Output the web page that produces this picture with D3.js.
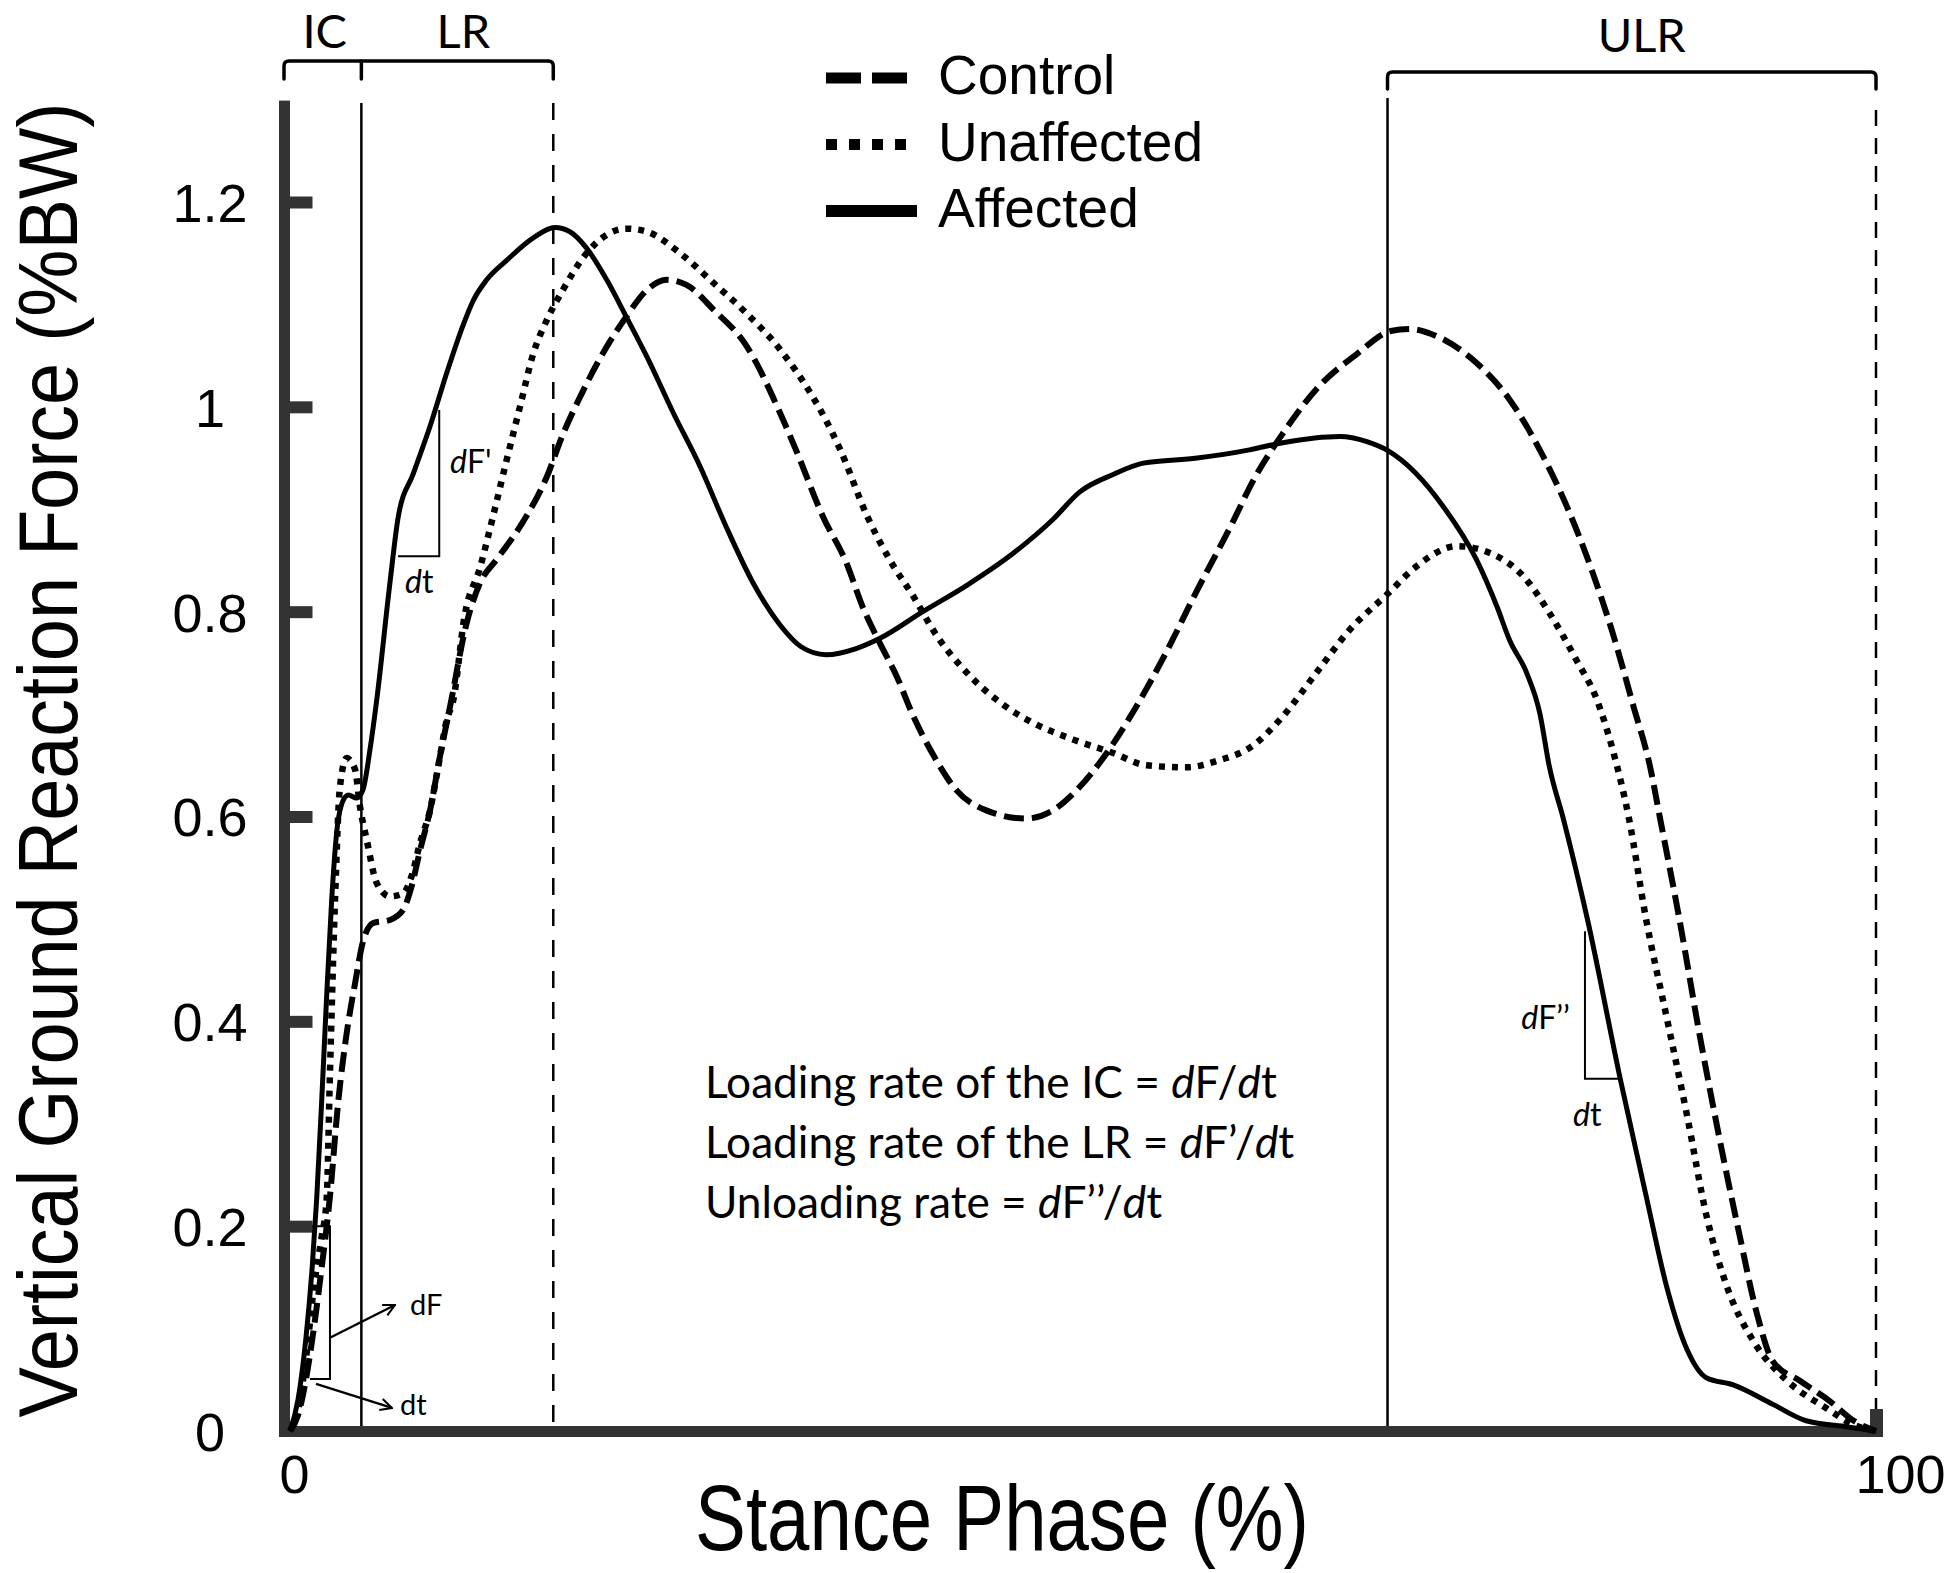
<!DOCTYPE html>
<html>
<head>
<meta charset="utf-8">
<script src="https://cdn.jsdelivr.net/npm/d3@7"></script>
<style>
  html, body { margin: 0; padding: 0; background: #fff; }
  svg { display: block; }
</style>
</head>
<body>
<svg id="chart" width="1950" height="1573"></svg>
<script>
// ---------------- DATA ----------------
const xTicks = [0, 100];
const xTickLabels = ["0", "100"];
const yTicks = [0, 0.2, 0.4, 0.6, 0.8, 1.0, 1.2];
const yTickLabels = ["0", "0.2", "0.4", "0.6", "0.8", "1", "1.2"];
const phaseBounds = [0, 4.5, 16.6, 69.2, 100];
const phaseNames = ["IC", "LR", "ULR"];
const legendLabels = ["Control", "Unaffected", "Affected"];

const control = [
  [0,0],[0.5,0.015],[1.0,0.05],[1.5,0.10],[2.0,0.16],[2.5,0.226],[3.05,0.323],[3.57,0.388],
  [4.1,0.437],[4.62,0.479],[5.25,0.496],[6.3,0.499],[7.14,0.509],[7.67,0.532],[8.2,0.567],
  [8.83,0.606],[9.46,0.659],[10.1,0.708],[11.14,0.789],[11.98,0.828],[13.03,0.851],[14.5,0.883],
  [16.2,0.932],[17.23,0.974],[18.3,1.010],[19.5,1.046],[21.2,1.088],[22.5,1.114],[23.75,1.124],
  [25.0,1.119],[26.7,1.095],[28.8,1.059],[30.9,0.994],[31.9,0.958],[33.6,0.893],[35.1,0.847],
  [36.1,0.805],[37.2,0.769],[38.25,0.737],[39.3,0.698],[40.6,0.659],[42.0,0.626],[43.9,0.606],
  [46.4,0.598],[48.1,0.606],[49.8,0.629],[51.5,0.662],[53.0,0.698],[55.1,0.756],[57.2,0.821],
  [59.3,0.883],[60.8,0.930],[62.6,0.974],[64.7,1.017],[67.3,1.052],[69.4,1.074],[70.6,1.076],
  [72.3,1.069],[74.8,1.043],[76.9,1.007],[78.8,0.958],[80.5,0.903],[82.0,0.844],[83.4,0.779],
  [84.7,0.708],[85.75,0.649],[86.4,0.597],[87.6,0.500],[88.9,0.385],[90.1,0.288],[91.4,0.191],
  [92.5,0.114],[93.5,0.068],[95.2,0.049],[97.1,0.029],[98.6,0.010],[100,0]
];
const unaffected = [
  [0,0],[0.5,0.02],[1.0,0.07],[1.5,0.14],[2.0,0.19],[2.31,0.226],[2.52,0.35],[2.84,0.519],
  [3.15,0.629],[3.57,0.657],[4.1,0.646],[4.41,0.610],[4.84,0.577],[5.47,0.535],[6.3,0.522],
  [7.14,0.525],[7.67,0.542],[8.2,0.574],[8.83,0.606],[9.35,0.649],[9.88,0.694],[10.3,0.714],
  [11.0,0.795],[12.0,0.844],[12.8,0.893],[13.66,0.948],[14.5,1.0],[15.34,1.052],[16.2,1.085],
  [17.2,1.114],[18.7,1.150],[19.97,1.168],[21.2,1.174],[22.5,1.171],[24.6,1.150],[26.7,1.121],
  [28.8,1.091],[30.9,1.056],[34.7,0.958],[36.4,0.893],[37.8,0.851],[39.3,0.815],[40.8,0.776],
  [42.7,0.740],[44.8,0.711],[46.9,0.691],[49.4,0.675],[51.9,0.662],[54.0,0.650],[56.5,0.648],
  [58.6,0.655],[60.6,0.668],[62.5,0.696],[64.7,0.740],[66.8,0.782],[69.25,0.818],[71.0,0.844],
  [73.6,0.864],[75.7,0.857],[77.8,0.834],[79.4,0.799],[81.1,0.753],[82.4,0.714],[83.4,0.665],
  [84.4,0.600],[85.5,0.500],[86.8,0.404],[88.1,0.307],[89.3,0.211],[90.6,0.141],[92.3,0.087],
  [94.4,0.049],[96.9,0.022],[98.6,0.006],[100,0]
];
const affected = [
  [0,0],[0.5,0.03],[1.0,0.09],[1.4,0.16],[1.68,0.226],[2.0,0.323],[2.3,0.421],[2.63,0.519],
  [2.94,0.584],[3.36,0.616],[3.68,0.621],[4.2,0.618],[4.6,0.626],[5.04,0.665],[5.47,0.714],
  [6.3,0.828],[6.83,0.893],[7.78,0.935],[8.83,0.981],[9.88,1.033],[10.8,1.075],[11.56,1.104],
  [12.4,1.124],[13.66,1.143],[15.34,1.165],[16.7,1.175],[17.65,1.171],[18.7,1.155],[19.97,1.124],
  [21.2,1.088],[22.5,1.049],[24.17,0.994],[25.85,0.942],[27.5,0.883],[29.2,0.828],[30.9,0.787],
  [32.2,0.766],[33.8,0.758],[35.7,0.764],[37.2,0.774],[39.9,0.800],[42.7,0.826],[45.6,0.857],
  [48.1,0.890],[49.8,0.917],[51.9,0.934],[53.8,0.945],[57.2,0.950],[60.5,0.958],[62.6,0.965],
  [66.2,0.971],[67.9,0.966],[69.25,0.957],[71.0,0.935],[72.7,0.903],[74.8,0.851],[76.1,0.805],
  [76.9,0.772],[77.98,0.740],[78.8,0.701],[79.4,0.649],[80.3,0.597],[81.8,0.500],[83.9,0.342],
  [85.5,0.230],[86.8,0.141],[88.1,0.079],[89.3,0.052],[91.0,0.045],[93.5,0.026],[95.6,0.010],
  [98.2,0.004],[100,0]
];

// ---------------- SETUP ----------------
const svg = d3.select("#chart");
const x = d3.scaleLinear().domain([0, 100]).range([290, 1876]);
const y = d3.scaleLinear().domain([0, 1.2]).range([1431, 202]);
const INK = "#000";
const AXIS = "#333";
const ARIAL = '"Liberation Sans", Arial, sans-serif';
const CALIBRI = 'Lato, "Open Sans", sans-serif';

// ---------------- PHASE LINES & BRACKETS ----------------
const gPhase = svg.append("g").attr("fill", "none").attr("stroke", INK);
gPhase.append("line").attr("x1", x(phaseBounds[1])).attr("x2", x(phaseBounds[1]))
  .attr("y1", 103).attr("y2", y(0)).attr("stroke-width", 2.5);
gPhase.append("line").attr("x1", x(phaseBounds[2])).attr("x2", x(phaseBounds[2]))
  .attr("y1", 103).attr("y2", y(0)).attr("stroke-width", 2.5).attr("stroke-dasharray", "17,14");
gPhase.append("line").attr("x1", x(phaseBounds[3])).attr("x2", x(phaseBounds[3]))
  .attr("y1", 98).attr("y2", y(0)).attr("stroke-width", 2.5);
gPhase.append("line").attr("x1", x(phaseBounds[4])).attr("x2", x(phaseBounds[4]))
  .attr("y1", 110).attr("y2", y(0)).attr("stroke-width", 2.5).attr("stroke-dasharray", "16,12");

function bracket(g, xa, xb, yTop, yBot, mids) {
  const r = 5;
  g.append("path")
    .attr("d", `M${xa},${yBot} V${yTop + r} Q${xa},${yTop} ${xa + r},${yTop} H${xb - r} Q${xb},${yTop} ${xb},${yTop + r} V${yBot}`)
    .attr("stroke-width", 3.5).attr("stroke-linecap", "round");
  (mids || []).forEach(m => g.append("line").attr("x1", m).attr("x2", m)
    .attr("y1", yTop).attr("y2", yBot).attr("stroke-width", 3.5).attr("stroke-linecap", "round"));
}
bracket(gPhase, x(phaseBounds[0]) - 6, x(phaseBounds[2]), 61, 79, [x(phaseBounds[1])]);
bracket(gPhase, x(phaseBounds[3]), x(phaseBounds[4]), 72, 89, []);

const phaseLabelPos = [
  [(x(phaseBounds[0]) - 6 + x(phaseBounds[1])) / 2 + 2, 48],
  [(x(phaseBounds[1]) + x(phaseBounds[2])) / 2 + 6, 48],
  [(x(phaseBounds[3]) + x(phaseBounds[4])) / 2 + 10, 52]
];
svg.append("g").selectAll("text").data(phaseNames).join("text")
  .attr("x", (d, i) => phaseLabelPos[i][0]).attr("y", (d, i) => phaseLabelPos[i][1])
  .attr("text-anchor", "middle").attr("font-family", CALIBRI).attr("font-size", 47)
  .attr("fill", INK).text(d => d);

// ---------------- AXES ----------------
svg.append("rect").attr("x", x(0) - 11).attr("width", 11)
  .attr("y", y(1.3) + 1).attr("height", y(0) + 6 - (y(1.3) + 1)).attr("fill", AXIS);
const gYT = svg.append("g").attr("transform", `translate(${x(0) - 5.5},0)`)
  .call(d3.axisRight(y).tickValues(yTicks.slice(1)).tickSize(28).tickSizeOuter(0).tickFormat(""));
gYT.select(".domain").remove();
gYT.selectAll(".tick line").attr("stroke", AXIS).attr("stroke-width", 12);
const gYL = svg.append("g").attr("transform", "translate(210,0)")
  .call(d3.axisLeft(y).tickValues(yTicks).tickFormat((d, i) => yTickLabels[i]).tickSize(0).tickPadding(0));
gYL.select(".domain").remove();
gYL.attr("font-size", 54).attr("font-family", ARIAL).attr("text-anchor", "middle");
gYL.selectAll("text").attr("x", 0).attr("dy", "0.36em").attr("fill", INK);

svg.append("rect").attr("x", x(0) - 11).attr("width", x(100) + 7 - (x(0) - 11))
  .attr("y", y(0) - 5).attr("height", 11).attr("fill", AXIS);
svg.append("rect").attr("x", x(100) - 6).attr("width", 13)
  .attr("y", y(0) - 22).attr("height", 28).attr("fill", AXIS);
const gXL = svg.append("g").attr("transform", `translate(0,${y(0) + 24})`)
  .call(d3.axisBottom(x).tickValues(xTicks).tickFormat((d, i) => xTickLabels[i]).tickSize(0).tickPadding(0));
gXL.select(".domain").remove();
gXL.attr("font-size", 54).attr("font-family", ARIAL);
gXL.selectAll("text").attr("fill", INK).attr("dx", (d, i) => i === 0 ? 4 : 24);

// axis titles (condensed Arial look)
svg.append("text")
  .attr("transform", "translate(1002,1550) scale(0.828,1)")
  .attr("text-anchor", "middle").attr("font-family", ARIAL).attr("font-size", 92)
  .attr("fill", INK).text("Stance Phase (%)");
svg.append("text")
  .attr("transform", "translate(77,760) rotate(-90) scale(0.9,1)")
  .attr("text-anchor", "middle").attr("font-family", ARIAL).attr("font-size", 84)
  .attr("fill", INK).text("Vertical Ground Reaction Force (%BW)");

// ---------------- CURVES ----------------
const line = d3.line().x(d => x(d[0])).y(d => y(d[1])).curve(d3.curveMonotoneX);
const gCurves = svg.append("g").attr("fill", "none").attr("stroke", INK);
gCurves.append("path").datum(control).attr("d", line)
  .attr("stroke-width", 6).attr("stroke-dasharray", "20,8");
gCurves.append("path").datum(unaffected).attr("d", line)
  .attr("stroke-width", 6.5).attr("stroke-dasharray", "6,7");
gCurves.append("path").datum(affected).attr("d", line)
  .attr("stroke-width", 5).attr("stroke-linejoin", "round");

// ---------------- LEGEND ----------------
const legendStyles = [
  { dash: "35,11", w: 11, len: 81 },
  { dash: "11,12", w: 11, len: 81 },
  { dash: null, w: 12, len: 91 }
];
const gLeg = svg.append("g").attr("transform", "translate(826,78)");
const items = gLeg.selectAll("g").data(legendLabels).join("g")
  .attr("transform", (d, i) => `translate(0,${i * 66.5})`);
items.append("line").attr("x1", 0).attr("x2", (d, i) => legendStyles[i].len)
  .attr("stroke", INK).attr("stroke-width", (d, i) => legendStyles[i].w)
  .attr("stroke-dasharray", (d, i) => legendStyles[i].dash);
items.append("text").attr("x", 112).attr("y", 16)
  .attr("font-family", ARIAL).attr("font-size", 55).attr("fill", INK).text(d => d);

// ---------------- ANNOTATIONS ----------------
const gAnn = svg.append("g").attr("stroke", INK).attr("fill", "none");
gAnn.append("path").attr("stroke-width", 2)
  .attr("d", `M${x(0) + 22},${y(0.2)} H${x(2.52)} V${y(0.0508)} H${x(1.26)}`);
const defs = svg.append("defs");
defs.append("marker").attr("id", "arr").attr("viewBox", "0 0 10 10")
  .attr("refX", 9).attr("refY", 5).attr("markerWidth", 6).attr("markerHeight", 6)
  .attr("orient", "auto")
  .append("path").attr("d", "M1,1 L9,5 L1,9").attr("fill", "none").attr("stroke", INK).attr("stroke-width", 1.4);
gAnn.append("line").attr("stroke-width", 2.4).attr("marker-end", "url(#arr)")
  .attr("x1", x(2.52)).attr("y1", y(0.091)).attr("x2", x(6.62)).attr("y2", y(0.123));
gAnn.append("line").attr("stroke-width", 2.4).attr("marker-end", "url(#arr)")
  .attr("x1", x(1.64)).attr("y1", y(0.046)).attr("x2", x(6.43)).attr("y2", y(0.0225));
gAnn.append("path").attr("stroke-width", 2)
  .attr("d", `M${x(9.41)},${y(0.997)} V${y(0.854)} H${x(6.81)}`);
gAnn.append("path").attr("stroke-width", 2)
  .attr("d", `M${x(81.65)},${y(0.488)} V${y(0.344)} H${x(83.73)}`);

function richText(g, xx, yy, parts, size, anchor) {
  const t = g.append("text").attr("x", xx).attr("y", yy)
    .attr("font-family", CALIBRI).attr("font-size", size).attr("fill", INK)
    .attr("stroke", "none").attr("text-anchor", anchor || "start");
  parts.forEach(p => t.append("tspan").attr("font-style", p[1] ? "italic" : "normal").text(p[0]));
  return t;
}
const gTxt = svg.append("g");
richText(gTxt, x(7.57), y(0.113), [["dF", 0]], 29);
richText(gTxt, x(6.94), y(0.0156), [["dt", 0]], 29);
richText(gTxt, x(10.09), y(0.9355), [["d", 1], ["F'", 0]], 32);
richText(gTxt, x(7.25), y(0.818), [["d", 1], ["t", 0]], 32);
richText(gTxt, x(80.7), y(0.3926), [["d", 1], ["F\u2019\u2019", 0]], 32, "end");
richText(gTxt, x(80.9), y(0.298), [["d", 1], ["t", 0]], 32);

const annoLines = [
  [["Loading rate of the IC = ", 0], ["d", 1], ["F/", 0], ["d", 1], ["t", 0]],
  [["Loading rate of the LR = ", 0], ["d", 1], ["F\u2019/", 0], ["d", 1], ["t", 0]],
  [["Unloading rate = ", 0], ["d", 1], ["F\u2019\u2019/", 0], ["d", 1], ["t", 0]]
];
const annoNodes = annoLines.map((parts, i) => richText(gTxt, 705, 1098 + i * 60, parts, 40));
const w0 = annoNodes[0].node().getComputedTextLength();
const fs = 40 * 572 / w0;
annoNodes.forEach(n => n.attr("font-size", fs));
</script>
</body>
</html>
